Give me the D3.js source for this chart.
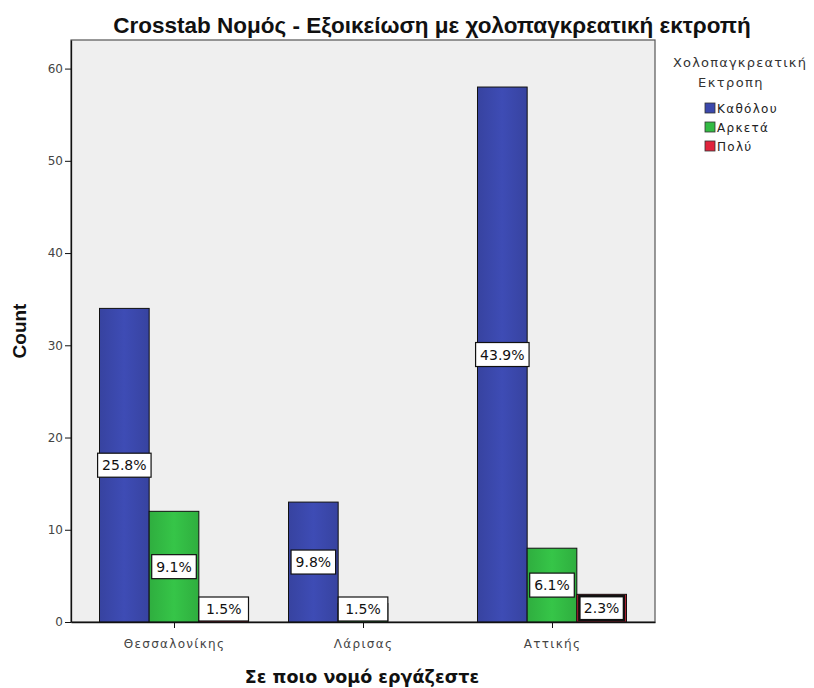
<!DOCTYPE html>
<html>
<head>
<meta charset="utf-8">
<script src="https://cdn.jsdelivr.net/npm/d3@7/dist/d3.min.js"></script>
<style>
  body { margin: 0; background: #fff; }
  svg { display: block; }
</style>
</head>
<body>
<svg id="chart" width="814" height="688" font-family="'DejaVu Sans', Verdana, sans-serif"></svg>
<script>
// Counts per region (Σε ποιο νομό εργάζεστε) for each familiarity level
const categories = ["Θεσσαλονίκης", "Λάρισας", "Αττικής"];
const seriesNames = ["Καθόλου", "Αρκετά", "Πολύ"];
const kathólou = [34, 13, 58];
const arketa = [12, 2, 8];
const poly = [2, 0, 3];
const yTicks = [0, 10, 20, 30, 40, 50, 60];
const colors = ["#3b48ac", "#33bb44", "#e0243c"];

const seriesValues = [kathólou, arketa, poly];
const total = d3.sum(seriesValues.flat());

const svg = d3.select("#chart");
const plot = { left: 71, right: 655, top: 40, bottom: 622 };
const arial = "'Liberation Sans', Arial, sans-serif";

const y = d3.scaleLinear().domain([0, 63.1]).range([plot.bottom, plot.top]);
const x0 = d3.scalePoint().domain(categories).range([plot.left, plot.right]).padding(0.545);
const x1 = d3.scaleBand().domain(seriesNames).range([-74.5, 74.5]);

// gradients giving the bars a slight sheen
const defs = svg.append("defs");
colors.forEach((c, i) => {
  const g = defs.append("linearGradient").attr("id", "grad" + i)
    .attr("x1", "0%").attr("x2", "100%").attr("y1", "0%").attr("y2", "0%");
  const base = d3.color(c);
  g.append("stop").attr("offset", "0%").attr("stop-color", base.darker(0.2));
  g.append("stop").attr("offset", "50%").attr("stop-color", base.brighter(0.15));
  g.append("stop").attr("offset", "100%").attr("stop-color", base.darker(0.2));
});

// plot background
svg.append("rect")
  .attr("x", plot.left).attr("y", plot.top)
  .attr("width", plot.right - plot.left).attr("height", plot.bottom - plot.top)
  .attr("fill", "#efefef").attr("stroke", "#555").attr("stroke-width", 1.2);

// title
svg.append("text")
  .attr("x", 432).attr("y", 33)
  .attr("text-anchor", "middle")
  .attr("font-family", arial)
  .attr("font-size", 22.5).attr("font-weight", "bold").attr("fill", "#111")
  .text("Crosstab Νομός - Εξοικείωση με χολοπαγκρεατική εκτροπή");

// bars
const bars = [];
categories.forEach((cat, ci) => {
  seriesNames.forEach((s, si) => {
    bars.push({ cat, s, si, v: seriesValues[si][ci] });
  });
});

svg.append("g").selectAll("rect")
  .data(bars.filter(d => d.v > 0))
  .join("rect")
  .attr("x", d => x0(d.cat) + x1(d.s))
  .attr("y", d => y(d.v))
  .attr("width", x1.bandwidth())
  .attr("height", d => y(0) - y(d.v))
  .attr("fill", d => "url(#grad" + d.si + ")")
  .attr("stroke", "#111").attr("stroke-width", 1);

// percentage labels in white boxes
const labelG = svg.append("g");
bars.filter(d => d.v > 0).forEach(d => {
  const cx = x0(d.cat) + x1(d.s) + x1.bandwidth() / 2;
  let cy = y(d.v / 2);
  const txt = (d.v / total * 100).toFixed(1) + "%";
  const g = labelG.append("g");
  const t = g.append("text")
    .attr("x", cx).attr("text-anchor", "middle")
    .attr("font-size", 14).attr("fill", "#111")
    .text(txt);
  let w = t.node().getComputedTextLength() + 9;
  const h = 24;
  const barH = y(0) - y(d.v);
  // short bars sit fully under their label box
  if (barH <= h) w = Math.max(w, x1.bandwidth());
  if (cy + h / 2 > plot.bottom - 1) cy = plot.bottom - 1 - h / 2;
  t.attr("y", cy + 5);
  g.insert("rect", "text")
    .attr("x", cx - w / 2).attr("y", cy - h / 2)
    .attr("width", w).attr("height", h)
    .attr("fill", "#fff").attr("stroke", "#111")
    .attr("stroke-width", d.si === 2 && d.v > 2 ? 2.5 : 1.2);
});

// y axis
const yAxis = d3.axisLeft(y).tickValues(yTicks).tickSize(6).tickSizeOuter(0).tickPadding(2);
const ya = svg.append("g").attr("transform", `translate(${plot.left},0)`).call(yAxis);
ya.attr("font-family", null);
ya.select(".domain").attr("stroke", "#111").attr("stroke-width", 1.3);
ya.selectAll(".tick line").attr("stroke", "#111");
ya.selectAll(".tick text").attr("font-size", 12).attr("fill", "#444");

// x axis
const xAxis = d3.axisBottom(x0).tickSize(6).tickSizeOuter(0);
const xa = svg.append("g").attr("transform", `translate(0,${plot.bottom})`).call(xAxis);
xa.attr("font-family", null);
xa.select(".domain").attr("stroke", "#111").attr("stroke-width", 1.3);
xa.selectAll(".tick line").attr("stroke", "#111");
xa.selectAll(".tick text").attr("font-size", 12).attr("fill", "#444")
  .attr("y", 26).attr("dy", 0).attr("letter-spacing", 1.3);

// axis titles
svg.append("text")
  .attr("transform", "translate(26,331) rotate(-90)")
  .attr("text-anchor", "middle")
  .attr("font-family", arial)
  .attr("font-size", 19).attr("font-weight", "bold").attr("fill", "#111")
  .text("Count");

svg.append("text")
  .attr("x", 362).attr("y", 683)
  .attr("text-anchor", "middle")
  .attr("font-size", 17.5).attr("font-weight", "bold").attr("fill", "#111")
  .text("Σε ποιο νομό εργάζεστε");

// legend
const lg = svg.append("g");
lg.append("text").attr("x", 740).attr("y", 67).attr("text-anchor", "middle")
  .attr("font-size", 13).attr("fill", "#333").attr("letter-spacing", 1.2)
  .text("Χολοπαγκρεατική");
lg.append("text").attr("x", 731).attr("y", 87).attr("text-anchor", "middle")
  .attr("font-size", 13).attr("fill", "#333").attr("letter-spacing", 1.4)
  .text("Εκτροπη");
seriesNames.forEach((s, i) => {
  const yy = 108 + i * 19;
  lg.append("rect").attr("x", 705).attr("y", yy - 5).attr("width", 10).attr("height", 10)
    .attr("fill", colors[i]).attr("stroke", "#333").attr("stroke-width", 0.8);
  lg.append("text").attr("x", 717).attr("y", yy + 5)
    .attr("font-size", 12).attr("fill", "#222").attr("letter-spacing", 1.3).text(s);
});
</script>
</body>
</html>
